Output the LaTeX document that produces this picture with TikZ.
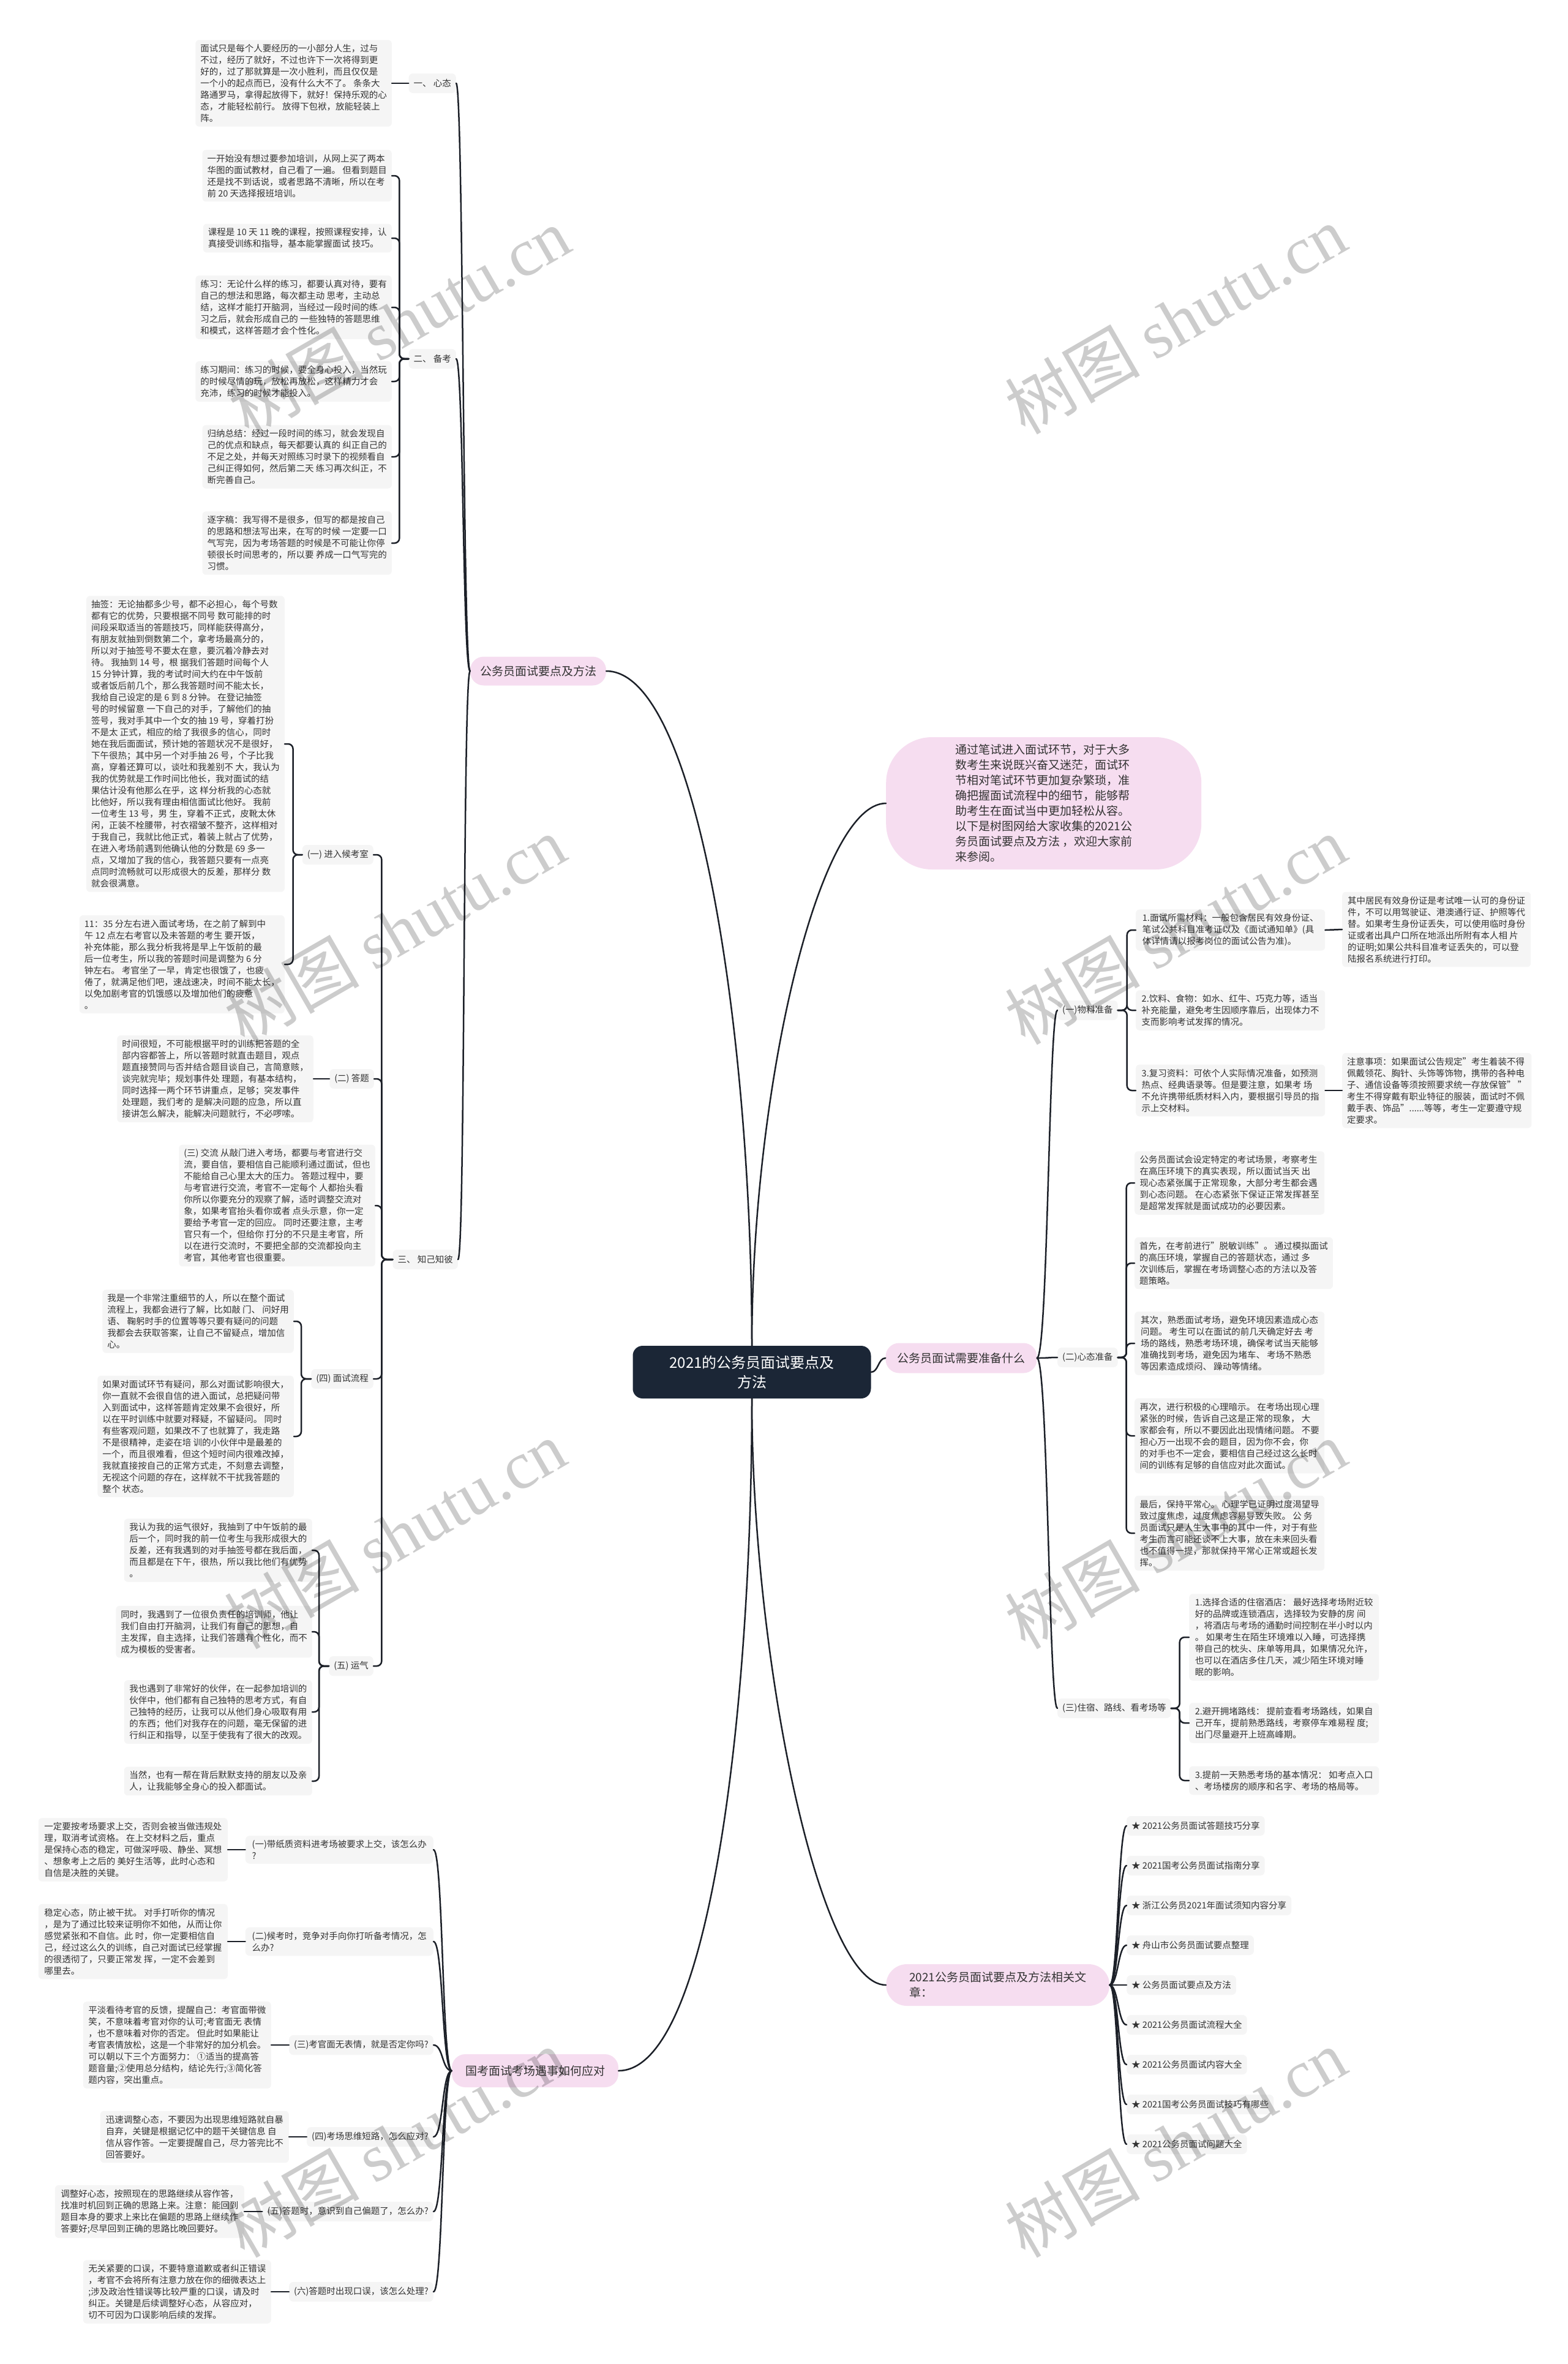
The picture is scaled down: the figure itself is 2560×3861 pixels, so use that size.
\documentclass[tikz,border=0pt]{standalone}
\usepackage{fontspec}
\setmainfont{Noto Sans CJK SC}
\newfontfamily\wmlat{Liberation Serif}
\usetikzlibrary{calc}
\definecolor{boxgray}{RGB}{245,245,245}
\definecolor{txt}{RGB}{51,51,51}
\definecolor{pinkc}{RGB}{246,221,240}
\definecolor{navy}{RGB}{27,38,54}
\definecolor{linec}{RGB}{28,32,40}
\newcommand\fsm{\fontsize{14.5}{19}\selectfont}
\newcommand\flg{\fontsize{19}{25}\selectfont}
\newcommand\froot{\fontsize{24}{32}\selectfont}
\newcommand\fwm{\fontsize{110}{120}\selectfont}
\begin{document}
\begin{tikzpicture}[x=1pt,y=-1pt,line join=round,
  tb/.style={fill=boxgray,rounded corners=6pt,inner xsep=8pt,inner ysep=7pt,align=left,font=\fsm,text=txt},
  lbl/.style={fill=boxgray,rounded corners=7pt,inner xsep=8pt,inner ysep=7pt,minimum height=32,align=left,font=\fsm,text=txt},
  lone/.style={fill=pinkc,rounded corners=22pt,inner xsep=16pt,inner ysep=9pt,align=left,font=\flg,text=txt},
  conn/.style={draw=linec,line width=2.5pt,line cap=round},
  brk/.style={conn,rounded corners=8pt},
  wm/.style={rotate=30,text=black,text opacity=0.2,font=\fwm}]
\useasboundingbox[fill=white] (0,0) rectangle (2560,3861);

% root
\node[fill=navy,text=white,font=\froot,align=center,rounded corners=16pt,minimum width=389,minimum height=86] (root) at (1228,2241) {2021的公务员面试要点及\\方法};

% level 1
\node[lone,minimum width=222,minimum height=47] (A) at (879,1096) {公务员面试要点及方法};
\node[lone,minimum width=272,minimum height=54] (B) at (874,3382) {国考面试考场遇事如何应对};
\node[lone,minimum width=247,minimum height=49] (C) at (1570,2218) {公务员面试需要准备什么};
\node[lone,anchor=west,minimum width=365,minimum height=68,rounded corners=34pt,inner xsep=30pt] (D) at (1447,3242) {2021公务员面试要点及方法相关文\\章：};
\node[fill=pinkc,text=txt,font=\flg,align=left,rounded corners=75pt,minimum width=515,minimum height=216,anchor=west,inner sep=4pt] (intro) at (1447,1312) {通过笔试进入面试环节，对于大多\\
数考生来说既兴奋又迷茫，面试环\\
节相对笔试环节更加复杂繁琐，准\\
确把握面试流程中的细节，能够帮\\
助考生在面试当中更加轻松从容。\\
以下是树图网给大家收集的2021公\\
务员面试要点及方法 ，欢迎大家前\\
来参阅。};

% ===== left upper branch
\node[lbl,anchor=east] (xt) at (745,136) {一、 心态};
\node[lbl,anchor=east] (bk) at (745,586) {二、 备考};
\node[lbl,anchor=east] (zj) at (748,2057) {三、 知己知彼};

\node[tb,anchor=east,minimum width=308] (T1) at (640,136) {面试只是每个人要经历的一小部分人生，过与\\
不过，经历了就好，不过也许下一次将得到更\\
好的，过了那就算是一次小胜利，而且仅仅是\\
一个小的起点而已，没有什么大不了。 条条大\\
路通罗马，拿得起放得下，就好！保持乐观的心\\
态，才能轻松前行。 放得下包袱，放能轻装上\\
阵。};

\node[tb,anchor=east,minimum width=308] (B1) at (640,287) {一开始没有想过要参加培训，从网上买了两本\\
华图的面试教材，自己看了一遍。 但看到题目\\
还是找不到话说，或者思路不清晰，所以在考\\
前 20 天选择报班培训。};
\node[tb,anchor=east,minimum width=308] (B2) at (640,389) {课程是 10 天 11 晚的课程，按照课程安排，认\\
真接受训练和指导，基本能掌握面试 技巧。};
\node[tb,anchor=east,minimum width=308] (B3) at (640,502) {练习：无论什么样的练习，都要认真对待，要有\\
自己的想法和思路，每次都主动 思考，主动总\\
结，这样才能打开脑洞，当经过一段时间的练\\
习之后，就会形成自己的 一些独特的答题思维\\
和模式，这样答题才会个性化。};
\node[tb,anchor=east,minimum width=308] (B4) at (640,623) {练习期间：练习的时候，要全身心投入，当然玩\\
的时候尽情的玩，放松再放松，这样精力才会\\
充沛，练习的时候才能投入。};
\node[tb,anchor=east,minimum width=308] (B5) at (640,746) {归纳总结：经过一段时间的练习，就会发现自\\
己的优点和缺点，每天都要认真的 纠正自己的\\
不足之处，并每天对照练习时录下的视频看自\\
己纠正得如何，然后第二天 练习再次纠正，不\\
断完善自己。};
\node[tb,anchor=east,minimum width=308] (B6) at (640,887) {逐字稿：我写得不是很多，但写的都是按自己\\
的思路和想法写出来，在写的时候 一定要一口\\
气写完，因为考场答题的时候是不可能让你停\\
顿很长时间思考的，所以要 养成一口气写完的\\
习惯。};

% 知己知彼 children
\node[lbl,anchor=east] (hk) at (610,1396) {(一) 进入候考室};
\node[lbl,anchor=east] (dt) at (611,1762) {(二) 答题};
\node[lbl,anchor=east] (lc) at (610,2252) {(四) 面试流程};
\node[lbl,anchor=east] (yq) at (610,2721) {(五) 运气};

\node[tb,anchor=east,minimum width=307] (H1) at (465,1215) {抽签：无论抽都多少号，都不必担心，每个号数\\
都有它的优势，只要根据不同号 数可能排的时\\
间段采取适当的答题技巧，同样能获得高分，\\
有朋友就抽到倒数第二个，拿考场最高分的，\\
所以对于抽签号不要太在意，要沉着冷静去对\\
待。 我抽到 14 号，根 据我们答题时间每个人\\
15 分钟计算，我的考试时间大约在中午饭前\\
或者饭后前几个，那么我答题时间不能太长，\\
我给自己设定的是 6 到 8 分钟。 在登记抽签\\
号的时候留意 一下自己的对手，了解他们的抽\\
签号，我对手其中一个女的抽 19 号，穿着打扮\\
不是太 正式，相应的给了我很多的信心，同时\\
她在我后面面试，预计她的答题状况不是很好，\\
下午很热；其中另一个对手抽 26 号，个子比我\\
高，穿着还算可以，谈吐和我差别不 大，我认为\\
我的优势就是工作时间比他长，我对面试的结\\
果估计没有他那么在乎，这 样分析我的心态就\\
比他好，所以我有理由相信面试比他好。 我前\\
一位考生 13 号，男 生，穿着不正式，皮靴太休\\
闲，正装不栓腰带，衬衣褶皱不整齐，这样相对\\
于我自己，我就比他正式，着装上就占了优势，\\
在进入考场前遇到他确认他的分数是 69 多一\\
点，又增加了我的信心，我答题只要有一点亮\\
点同时流畅就可以形成很大的反差，那样分 数\\
就会很满意。};
\node[tb,anchor=east,minimum width=307] (H2) at (465,1575) {11：35 分左右进入面试考场，在之前了解到中\\
午 12 点左右考官以及未答题的考生 要开饭，\\
补充体能，那么我分析我将是早上午饭前的最\\
后一位考生，所以我的答题时间是调整为 6 分\\
钟左右。 考官坐了一早，肯定也很饿了，也疲\\
倦了，就满足他们吧，速战速决，时间不能太长，\\
以免加剧考官的饥饿感以及增加他们的疲惫\\
。};
\node[tb,anchor=east,minimum width=308] (DT1) at (512,1762) {时间很短，不可能根据平时的训练把答题的全\\
部内容都答上，所以答题时就直击题目，观点\\
题直接赞同与否并结合题目谈自己，言简意赅，\\
谈完就完毕；规划事件处 理题，有基本结构，\\
同时选择一两个环节讲重点，足够；突发事件\\
处理题，我们考的 是解决问题的应急，所以直\\
接讲怎么解决，能解决问题就行，不必啰嗦。};
\node[tb,anchor=east,minimum width=309] (JL) at (613,1969) {(三) 交流 从敲门进入考场，都要与考官进行交\\
流，要自信，要相信自己能顺利通过面试，但也\\
不能给自己心里太大的压力。 答题过程中，要\\
与考官进行交流，考官不一定每个 人都抬头看\\
你所以你要充分的观察了解，适时调整交流对\\
象，如果考官抬头看你或者 点头示意，你一定\\
要给予考官一定的回应。 同时还要注意，主考\\
官只有一个，但给你 打分的不只是主考官，所\\
以在进行交流时，不要把全部的交流都投向主\\
考官，其他考官也很重要。};
\node[tb,anchor=east,minimum width=307] (LC1) at (480,2158) {我是一个非常注重细节的人，所以在整个面试\\
流程上，我都会进行了解，比如敲 门、 问好用\\
语、 鞠躬时手的位置等等只要有疑问的问题\\
我都会去获取答案，让自己不留疑点，增加信\\
心。};
\node[tb,anchor=east,minimum width=307] (LC2) at (480,2346) {如果对面试环节有疑问，那么对面试影响很大，\\
你一直就不会很自信的进入面试，总把疑问带\\
入到面试中，这样答题肯定效果不会很好，所\\
以在平时训练中就要对释疑，不留疑问。 同时\\
有些客观问题，如果改不了也就算了，我走路\\
不是很精神，走姿在培 训的小伙伴中是最差的\\
一个，而且很难看，但这个短时间内很难改掉，\\
我就直接按自己的正常方式走，不刻意去调整，\\
无视这个问题的存在，这样就不干扰我答题的\\
整个 状态。};
\node[tb,anchor=east,minimum width=307] (YQ1) at (510,2532) {我认为我的运气很好，我抽到了中午饭前的最\\
后一个，同时我的前一位考生与我形成很大的\\
反差，还有我遇到的对手抽签号都在我后面，\\
而且都是在下午，很热，所以我比他们有优势\\
。};
\node[tb,anchor=east,minimum width=307] (YQ2) at (510,2665) {同时，我遇到了一位很负责任的培训师，他让\\
我们自由打开脑洞，让我们有自己的思想，自\\
主发挥，自主选择，让我们答题有个性化，而不\\
成为模板的受害者。};
\node[tb,anchor=east,minimum width=307] (YQ3) at (510,2796) {我也遇到了非常好的伙伴，在一起参加培训的\\
伙伴中，他们都有自己独特的思考方式，有自\\
己独特的经历，让我可以从他们身心吸取有用\\
的东西；他们对我存在的问题，毫无保留的进\\
行纠正和指导，以至于使我有了很大的改观。};
\node[tb,anchor=east,minimum width=307] (YQ4) at (510,2909) {当然，也有一帮在背后默默支持的朋友以及亲\\
人，让我能够全身心的投入都面试。};

% ===== left lower branch
\node[lbl,anchor=east,minimum width=307] (G1) at (708,3021) {(一)带纸质资料进考场被要求上交，该怎么办\\?};
\node[lbl,anchor=east,minimum width=307] (G2) at (708,3171) {(二)候考时，竞争对手向你打听备考情况，怎\\么办?};
\node[lbl,anchor=east] (G3) at (708,3340) {(三)考官面无表情，就是否定你吗?};
\node[lbl,anchor=east] (G4) at (708,3490) {(四)考场思维短路，怎么应对?};
\node[lbl,anchor=east] (G5) at (708,3612) {(五)答题时，意识到自己偏题了，怎么办?};
\node[lbl,anchor=east] (G6) at (708,3743) {(六)答题时出现口误，该怎么处理?};

\node[tb,anchor=east,minimum width=309] (G1c) at (372,3021) {一定要按考场要求上交，否则会被当做违规处\\
理，取消考试资格。 在上交材料之后，重点\\
是保持心态的稳定，可做深呼吸、静坐、冥想\\
、想象考上之后的 美好生活等，此时心态和\\
自信是决胜的关键。};
\node[tb,anchor=east,minimum width=309] (G2c) at (372,3171) {稳定心态，防止被干扰。 对手打听你的情况\\
，是为了通过比较来证明你不如他，从而让你\\
感觉紧张和不自信。此 时，你一定要相信自\\
己，经过这么久的训练，自己对面试已经掌握\\
的很透彻了，只要正常发 挥，一定不会差到\\
哪里去。};
\node[tb,anchor=east,minimum width=307] (G3c) at (443,3340) {平淡看待考官的反馈，提醒自己：考官面带微\\
笑，不意味着考官对你的认可;考官面无 表情\\
，也不意味着对你的否定。 但此时如果能让\\
考官表情放松，这是一个非常好的加分机会。\\
可以朝以下三个方面努力： ①适当的提高答\\
题音量;②使用总分结构，结论先行;③简化答\\
题内容，突出重点。};
\node[tb,anchor=east,minimum width=308] (G4c) at (472,3490) {迅速调整心态，不要因为出现思维短路就自暴\\
自弃，关键是根据记忆中的题干关键信息 自\\
信从容作答。一定要提醒自己，尽力答完比不\\
回答要好。};
\node[tb,anchor=east,minimum width=309] (G5c) at (399,3612) {调整好心态，按照现在的思路继续从容作答，\\
找准时机回到正确的思路上来。注意：能回到\\
题目本身的要求上来比在偏题的思路上继续作\\
答要好;尽早回到正确的思路比晚回要好。};
\node[tb,anchor=east,minimum width=307] (G6c) at (443,3743) {无关紧要的口误，不要特意道歉或者纠正错误\\
，考官不会将所有注意力放在你的细微表达上\\
;涉及政治性错误等比较严重的口误，请及时\\
纠正。关键是后续调整好心态，从容应对，\\
切不可因为口误影响后续的发挥。};

% ===== right branch: 需要准备
\node[lbl,anchor=west] (wl) at (1727,1650) {(一)物料准备};
\node[lbl,anchor=west] (xz) at (1727,2217) {(二)心态准备};
\node[lbl,anchor=west] (zs) at (1727,2790) {(三)住宿、路线、看考场等};

\node[tb,anchor=west,minimum width=309] (M1) at (1855,1519) {1.面试所需材料：一般包含居民有效身份证、\\
笔试公共科目准考证以及《面试通知单》(具\\
体详情请以报考岗位的面试公告为准)。};
\node[tb,anchor=west,minimum width=308] (M1c) at (2192,1518) {其中居民有效身份证是考试唯一认可的身份证\\
件，不可以用驾驶证、港澳通行证、护照等代\\
替。如果考生身份证丢失，可以使用临时身份\\
证或者出具户口所在地派出所附有本人相 片\\
的证明;如果公共科目准考证丢失的，可以登\\
陆报名系统进行打印。};
\node[tb,anchor=west,minimum width=309] (M2) at (1855,1650) {2.饮料、食物：如水、红牛、巧克力等，适当\\
补充能量，避免考生因顺序靠后，出现体力不\\
支而影响考试发挥的情况。};
\node[tb,anchor=west,minimum width=309] (M3) at (1855,1781) {3.复习资料：可依个人实际情况准备，如预测\\
热点、经典语录等。但是要注意，如果考 场\\
不允许携带纸质材料入内，要根据引导员的指\\
示上交材料。};
\node[tb,anchor=west,minimum width=308] (M3c) at (2192,1781) {注意事项：如果面试公告规定"考生着装不得\\
佩戴领花、胸针、头饰等饰物，携带的各种电\\
子、通信设备等须按照要求统一存放保管" "\\
考生不得穿戴有职业特征的服装，面试时不佩\\
戴手表、饰品"......等等，考生一定要遵守规\\
定要求。};

\node[tb,anchor=west,minimum width=310] (P1) at (1853,1932) {公务员面试会设定特定的考试场景，考察考生\\
在高压环境下的真实表现，所以面试当天 出\\
现心态紧张属于正常现象，大部分考生都会遇\\
到心态问题。 在心态紧张下保证正常发挥甚至\\
是超常发挥就是面试成功的必要因素。};
\node[tb,anchor=west,minimum width=310] (P2) at (1853,2063) {首先，在考前进行"脱敏训练"。 通过模拟面试\\
的高压环境，掌握自己的答题状态，通过 多\\
次训练后，掌握在考场调整心态的方法以及答\\
题策略。};
\node[tb,anchor=west,minimum width=310] (P3) at (1853,2194) {其次，熟悉面试考场，避免环境因素造成心态\\
问题。 考生可以在面试的前几天确定好去 考\\
场的路线，熟悉考场环境，确保考试当天能够\\
准确找到考场，避免因为堵车、 考场不熟悉\\
等因素造成烦闷、 躁动等情绪。};
\node[tb,anchor=west,minimum width=310] (P4) at (1853,2345) {再次，进行积极的心理暗示。 在考场出现心理\\
紧张的时候，告诉自己这是正常的现象， 大\\
家都会有，所以不要因此出现情绪问题。 不要\\
担心万一出现不会的题目，因为你不会，你\\
的对手也不一定会，要相信自己经过这么长时\\
间的训练有足够的自信应对此次面试。};
\node[tb,anchor=west,minimum width=310] (P5) at (1853,2504) {最后，保持平常心。 心理学已证明过度渴望导\\
致过度焦虑，过度焦虑容易导致失败。 公 务\\
员面试只是人生大事中的其中一件，对于有些\\
考生而言可能还谈不上大事，放在未来回头看\\
也不值得一提，那就保持平常心正常或超长发\\
挥。};

\node[tb,anchor=west,minimum width=310] (Q1) at (1942,2674) {1.选择合适的住宿酒店： 最好选择考场附近较\\
好的品牌或连锁酒店，选择较为安静的房 间\\
，将酒店与考场的通勤时间控制在半小时以内\\
。 如果考生在陌生环境难以入睡，可选择携\\
带自己的枕头、床单等用具，如果情况允许，\\
也可以在酒店多住几天，减少陌生环境对睡\\
眠的影响。};
\node[tb,anchor=west,minimum width=310] (Q2) at (1942,2814) {2.避开拥堵路线： 提前查看考场路线，如果自\\
己开车，提前熟悉路线，考察停车难易程 度;\\
出门尽量避开上班高峰期。};
\node[tb,anchor=west,minimum width=310] (Q3) at (1942,2908) {3.提前一天熟悉考场的基本情况： 如考点入口\\
、考场楼房的顺序和名字、考场的格局等。};

% related articles
\foreach \t [count=\i] in {2021公务员面试答题技巧分享,2021国考公务员面试指南分享,浙江公务员2021年面试须知内容分享,舟山市公务员面试要点整理,公务员面试要点及方法,2021公务员面试流程大全,2021公务员面试内容大全,2021国考公务员面试技巧有哪些,2021公务员面试问题大全}
  \node[lbl,anchor=west] (s\i) at (1840,{2917+65*\i}) {★ \t};

% ===== connectors
\draw[conn] (root.north) .. controls +(0,-500) and +(150,0) .. (A.east);
\draw[conn] (root.north) .. controls +(0,-420) and +(-110,0) .. (intro.west);
\draw[conn] (root.east) .. controls +(12,0) and +(-12,0) .. (C.west);
\draw[conn] (root.south) .. controls +(0,500) and +(150,0) .. (B.east);
\draw[conn] (root.south) .. controls +(0,420) and +(-110,0) .. (D.west);

\foreach \c in {xt,bk,zj}
  \draw[conn] (A.west) .. controls +(-12,0) and +(12,0) .. (\c.east);
\draw[conn] (xt.west) -- (T1.east);
\foreach \c in {B1,B2,B3,B4,B5,B6}
  \draw[brk] (bk.west) -- ++(-15,0) |- (\c.east);
\foreach \c in {hk,dt,JL,lc,yq}
  \draw[brk] (zj.west) -- ++(-18,0) |- (\c.east);
\foreach \c in {H1,H2}
  \draw[brk] (hk.west) -- ++(-15,0) |- (\c.east);
\draw[conn] (dt.west) -- (DT1.east);
\foreach \c in {LC1,LC2}
  \draw[brk] (lc.west) -- ++(-16,0) |- (\c.east);
\foreach \c in {YQ1,YQ2,YQ3,YQ4}
  \draw[brk] (yq.west) -- ++(-16,0) |- (\c.east);

\foreach \c in {G1,G2,G3,G4,G5,G6} {
  \draw[conn] (B.west) .. controls +(-16,0) and +(16,0) .. (\c.east);
  \draw[conn] (\c.west) -- (\c c.east);
}

\foreach \c in {wl,xz,zs}
  \draw[conn] (C.east) .. controls +(18,0) and +(-14,0) .. (\c.west);
\foreach \c in {M1,M2,M3}
  \draw[brk] (wl.east) -- ++(15,0) |- (\c.west);
\draw[conn] (M1.east) -- (M1c.west);
\draw[conn] (M3.east) -- (M3c.west);
\foreach \c in {P1,P2,P3,P4,P5}
  \draw[brk] (xz.east) -- ++(14,0) |- (\c.west);
\foreach \c in {Q1,Q2,Q3}
  \draw[brk] (zs.east) -- ++(14,0) |- (\c.west);
\foreach \i in {1,...,9}
  \draw[conn] (D.east) .. controls +(14,0) and +(-14,0) .. (s\i.west);

% ===== watermarks
\foreach \p in {(652,525),(1920,522),(645,1519),(1920,1519),(645,2506),(1920,2506),(645,3500),(1920,3500)}
  \node[wm] at \p {树图 {\wmlat shutu.cn}};
\end{tikzpicture}
\end{document}
